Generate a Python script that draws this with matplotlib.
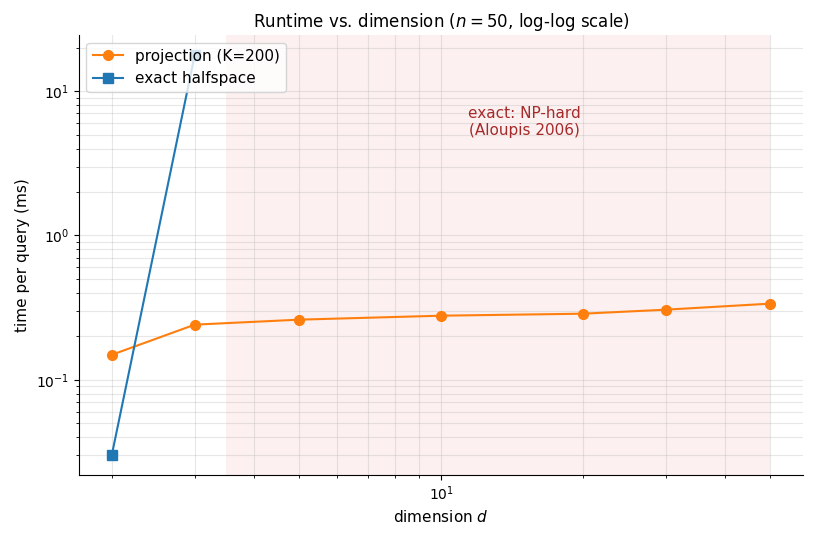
import matplotlib
matplotlib.use("Agg")
import matplotlib.pyplot as plt

dims = [2, 3, 5, 10, 20, 30, 50]
proj_ms = [0.149, 0.241, 0.261, 0.278, 0.287, 0.306, 0.337]
exact_dims = [2, 3]
exact_ms = [0.0301, 17.8]

fig, ax = plt.subplots(figsize=(8.13, 5.38), dpi=100)
ax.axvspan(3.5, 50, color="#f4a0a0", alpha=0.15, lw=0, zorder=0)
ax.plot(dims, proj_ms, "-o", color="#ff7f0e", label="projection (K=200)", ms=7)
ax.plot(exact_dims, exact_ms, "-s", color="#1f77b4", label="exact halfspace", ms=7)
ax.set_xscale("log")
ax.set_yscale("log")
ax.grid(True, which="both", alpha=0.3)
ax.text(15, 6.1, "exact: NP-hard\n(Aloupis 2006)", color="#a52a2a",
        ha="center", va="center", fontsize=11)
ax.set_xlabel("dimension $d$", fontsize=11)
ax.set_ylabel("time per query (ms)", fontsize=11)
ax.set_title("Runtime vs. dimension ($n=50$, log-log scale)", fontsize=12)
ax.spines["top"].set_visible(False)
ax.spines["right"].set_visible(False)
ax.legend(loc="upper left", fontsize=11)
fig.subplots_adjust(left=0.097, right=0.988, bottom=0.117, top=0.935)
fig.savefig("out.png")
